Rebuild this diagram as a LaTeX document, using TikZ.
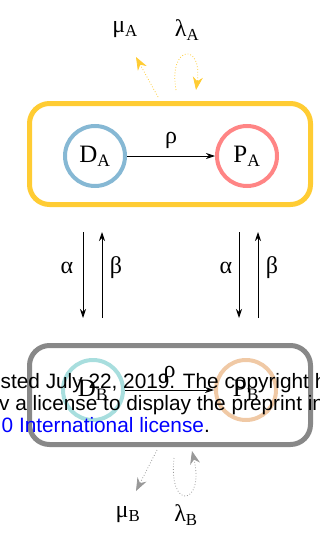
\documentclass[tikz,border=0pt]{standalone}
\usepackage{fontspec}
\setmainfont{Liberation Serif}
\newfontfamily\wmfont{Liberation Sans}
\usetikzlibrary{arrows.meta}
\definecolor{cyel}{HTML}{FFCC33}
\definecolor{cgray}{HTML}{888888}
\definecolor{cDA}{HTML}{86B8D4}
\definecolor{cPA}{HTML}{FF8585}
\definecolor{cDB}{HTML}{A8DEDE}
\definecolor{cPB}{HTML}{F0C9A5}
\definecolor{cyelarr}{HTML}{FFCC33}
\definecolor{cgrayarr}{HTML}{999999}
\begin{document}
\begin{tikzpicture}[x=1pt,y=-1pt,
  compbox/.style={line width=5pt, rounded corners=20pt, minimum width=281pt, minimum height=101pt, inner sep=0pt},
  state/.style={circle, line width=4pt, minimum size=60pt, inner sep=0pt, font=\fontsize{25}{27}\selectfont},
  lbl/.style={font=\fontsize{24}{26}\selectfont, inner sep=0pt},
  flow/.style={line width=0.9pt, -{Stealth[length=9pt,width=6pt]}},
  vital/.style={dotted, line width=0.8pt, -{Stealth[length=13pt,width=10pt]}},
  wm/.style={font=\wmfont\fontsize{20.8}{22}\selectfont, anchor=base west, inner sep=0pt}]
\useasboundingbox (0,0) rectangle (320,543);
\clip (0,0) rectangle (320,543);
% boxes
\node[compbox, draw=cyel] (boxA) at (170,154) {};
\node[compbox, draw=cgray, minimum height=99pt] (boxB) at (170,395) {};
% states
\node[state, draw=cDA] (DA) at (95,156) {D\textsubscript{A}};
\node[state, draw=cPA] (PA) at (247,156) {P\textsubscript{A}};
\node[state, draw=cDB] (DB) at (93,390) {D\textsubscript{B}};
\node[state, draw=cPB] (PB) at (246,390) {P\textsubscript{B}};
\draw[flow] (DA) -- node[lbl, above=7pt] (rhoA) {ρ} (PA);
\draw[flow] (DB) -- node[lbl, above=7pt] (rhoB) {ρ} (PB);
% vertical transitions
\coordinate (a1t) at (83,232); \coordinate (a1b) at (83,318);
\coordinate (b1t) at (102,232); \coordinate (b1b) at (102,318);
\coordinate (a2t) at (239,232); \coordinate (a2b) at (239,318);
\coordinate (b2t) at (258,232); \coordinate (b2b) at (258,318);
\draw[flow] (a1t) -- (a1b);
\draw[flow] (b1b) -- (b1t);
\draw[flow] (a2t) -- (a2b);
\draw[flow] (b2b) -- (b2t);
\node[lbl] (al1) at (67,268) {α};
\node[lbl] (be1) at (116,268) {β};
\node[lbl] (al2) at (226,268) {α};
\node[lbl] (be2) at (272,268) {β};
% top vital rates
\node[lbl] (muA) at (125,30) {μ\textsubscript{A}};
\node[lbl] (laA) at (187,30) {λ\textsubscript{A}};
\coordinate (muAs) at (158,97);
\coordinate (muAe) at (136,57);
\draw[vital, cyelarr] (muAs) -- (muAe);
\coordinate (laAs) at (176,90);
\coordinate (laAe) at (196,90);
\draw[vital, cyelarr] (laAs) .. controls (168,45) and (203,42) .. (laAe);
% bottom vital rates
\node[lbl] (muB) at (128,515) {μ\textsubscript{B}};
\node[lbl] (laB) at (186,515) {λ\textsubscript{B}};
\coordinate (muBs) at (157,450);
\coordinate (muBe) at (136,491);
\draw[vital, cgrayarr] (muBs) -- (muBe);
\coordinate (laBs) at (174,458);
\coordinate (laBe) at (192,451);
\draw[vital, cgrayarr] (laBs) .. controls (168,512) and (205,505) .. (laBe);
% overlay text
\node[wm] (w1) at (0.5,388) {sted July 22, 2019. The copyright holder};
\node[wm] (w2) at (-1,410) {v a license to display the preprint in};
\node[wm, text=blue] (w3) at (1.5,432) {0 International license\textcolor{black}{.}};
\end{tikzpicture}
\end{document}
